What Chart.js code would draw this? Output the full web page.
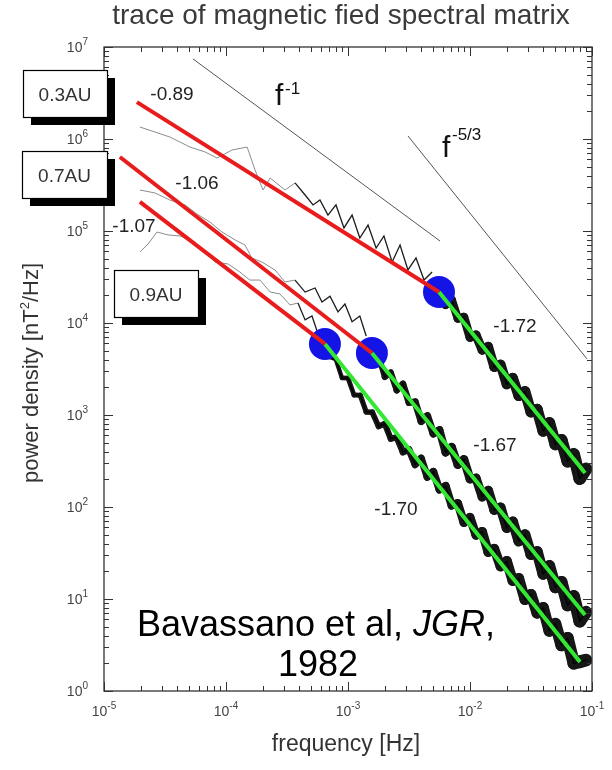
<!DOCTYPE html>
<html><head><meta charset="utf-8">
<script src="https://cdn.jsdelivr.net/npm/chart.js@4.4.0/dist/chart.umd.min.js"></script>
<style>html,body{margin:0;padding:0;background:#fff}</style>
</head><body>
<canvas id="c" width="612" height="770"></canvas>
<script>
// ---------------- data ----------------
const xTickExp = [-5, -4, -3, -2, -1];
const yTickExp = [0, 1, 2, 3, 4, 5, 6, 7];

// low-frequency part of each spectrum (Hz, nT^2/Hz)
const lowFreq03 = [1.97e-5, 2.62e-5, 3.47e-5, 5.07e-5, 6.73e-5, 8.44e-5, 1.12e-4, 1.49e-4, 1.73e-4, 2.01e-4, 2.30e-4, 3.05e-4, 3.68e-4, 4.45e-4, 5.17e-4, 5.89e-4, 6.85e-4, 7.97e-4, 9.27e-4, 1.08e-3, 1.25e-3, 1.46e-3, 1.70e-3, 1.97e-3, 2.30e-3, 2.67e-3, 3.10e-3, 3.61e-3, 4.20e-3, 4.89e-3];
const lowPow03  = [1.35e6, 1.19e6, 1.05e6, 8.18e5, 7.23e5, 6.21e5, 7.59e5, 8.18e5, 4.60e5, 2.79e5, 3.77e5, 2.79e5, 3.33e5, 2.46e5, 1.92e5, 2.17e5, 1.49e5, 1.92e5, 1.08e5, 1.49e5, 8.39e4, 1.16e5, 6.53e4, 8.83e4, 4.60e4, 7.05e4, 3.77e4, 5.09e4, 2.93e4, 3.58e4];
const lowFreq07 = [1.97e-5, 2.62e-5, 3.47e-5, 4.61e-5, 5.78e-5, 7.39e-5, 9.27e-5, 1.19e-4, 1.43e-4, 1.63e-4, 1.97e-4, 2.52e-4, 3.05e-4, 3.68e-4, 4.45e-4, 5.37e-4, 6.12e-4, 7.12e-4, 8.28e-4, 9.44e-4, 1.08e-3, 1.25e-3, 1.41e-3];
const lowPow07  = [2.79e5, 2.59e5, 2.17e5, 1.92e5, 1.53e5, 1.25e5, 9.75e4, 7.98e4, 7.05e4, 5.09e4, 4.60e4, 3.77e4, 2.79e4, 2.93e4, 2.17e4, 2.40e4, 1.69e4, 1.96e4, 1.32e4, 1.61e4, 1.03e4, 1.19e4, 7.23e3];
const lowFreq09 = [1.97e-5, 2.30e-5, 2.72e-5, 3.35e-5, 4.20e-5, 5.26e-5, 6.73e-5, 8.13e-5, 1.04e-4, 1.30e-4, 1.57e-4, 1.90e-4, 2.30e-4, 2.77e-4, 3.35e-4, 3.89e-4, 4.45e-4, 5.07e-4, 5.68e-4];
const lowPow09  = [5.92e4, 7.23e4, 9.75e4, 9.06e4, 8.83e4, 7.78e4, 5.92e4, 4.60e4, 4.38e4, 3.58e4, 2.93e4, 2.93e4, 2.17e4, 2.07e4, 1.57e4, 1.65e4, 1.08e4, 1.19e4, 7.59e3];

// high-frequency (noisy) part: shared frequency grid, series aligned to its end
const hfFreq = [6.31e-4, 7.08e-4, 7.94e-4, 8.91e-4, 1.00e-3, 1.12e-3, 1.26e-3, 1.41e-3, 1.58e-3, 1.78e-3, 2.00e-3, 2.24e-3, 2.51e-3, 2.82e-3, 3.16e-3, 3.55e-3, 3.98e-3, 4.47e-3, 5.01e-3, 5.62e-3, 6.31e-3, 7.08e-3, 7.94e-3, 8.91e-3, 1.00e-2, 1.12e-2, 1.26e-2, 1.41e-2, 1.58e-2, 1.78e-2, 2.00e-2, 2.24e-2, 2.51e-2, 2.82e-2, 3.16e-2, 3.55e-2, 3.98e-2, 4.47e-2, 5.01e-2, 5.62e-2, 6.31e-2, 7.08e-2, 7.94e-2, 8.91e-2];
const hfPow03 = [2.44e4, 1.57e4, 1.79e4, 1.12e4, 1.16e4, 6.97e3, 7.41e3, 5.09e3, 5.55e3, 3.32e3, 3.53e3, 2.16e3, 2.52e3, 1.62e3, 1.80e3, 1.08e3, 1.15e3, 671, 820, 480, 535, 313, 373, 204, 259];
const hfPow07 = [4140, 4416, 2588, 2891, 1858, 2173, 1365, 1390, 853, 975, 627, 684, 392, 448, 288, 329, 202, 206, 129, 151, 92.7, 98.9, 59.3, 69.3, 42.6, 50.0, 30.5, 32.6, 18.7, 22.9, 13.4, 15.3, 8.57, 10.7, 5.74, 7.19];
const hfPow09 = [6780, 4256, 4036, 2529, 2518, 1652, 1641, 1079, 1072, 753, 804, 552, 574, 395, 421, 289, 338, 212, 242, 155, 169, 104, 110, 67.6, 77.1, 49.5, 54.0, 32.3, 35.2, 22.6, 25.8, 15.8, 16.8, 9.84, 11.2, 7.05, 8.04, 4.50, 5.37, 3.14, 3.76, 2.00, 2.08, 2.17];

// power-law fits: [start, break (blue dot), end]
const fitFreq03 = [1.86e-5, 5.57e-3, 8.77e-2]; const fitPow03 = [2.52e6, 2.17e4, 234];
const fitFreq07 = [1.35e-5, 1.57e-3, 8.77e-2]; const fitPow07 = [6.37e5, 4.72e3, 6.70];
const fitFreq09 = [1.97e-5, 6.47e-4, 7.98e-2]; const fitPow09 = [2.07e5, 5.92e3, 2.07];

// reference slopes f^-1 and f^-5/3
const refFreqM1 = [5.37e-5, 5.68e-3];  const refPowM1 = [7.41e6, 7.78e4];
const refFreqM53 = [3.10e-3, 9.10e-2]; const refPowM53 = [1.08e6, 4.07e3];

const slopeLabels = ['-0.89', '-1.06', '-1.07', '-1.72', '-1.67', '-1.70'];
const distanceLabels = ['0.3AU', '0.7AU', '0.9AU'];
const titleText = 'trace of magnetic fied spectral matrix';

// ---------------- helpers ----------------
const FONT = '"Liberation Sans", Arial, Helvetica, sans-serif';
const pts = (f, p) => f.map((v, i) => ({x: v, y: p[i]}));
const hfPts = p => { const o = hfFreq.length - p.length; return p.map((v, i) => ({x: hfFreq[o + i], y: v})); };

const lowSet = (f, p) => ({
  data: pts(f, p), showLine: true, pointRadius: 0, borderWidth: 1, borderColor: '#8c8c8c', order: 6,
  segment: {
    borderColor: c => c.p0.parsed.x >= 3.5e-4 ? '#1c1c1c' : '#8c8c8c',
    borderWidth: c => c.p0.parsed.x >= 3.5e-4 ? 1.3 : 1
  }
});
// band width grows toward high frequencies (noise spread widens in the original)
const bandWidth = c => 4 + 9 * Math.max(0, Math.log10(c.p0.parsed.x) + 3.2) / 2.15;
const hfSet = (p, w, col, order, grow) => ({
  data: hfPts(p), showLine: true, pointRadius: 0, borderWidth: w, borderColor: col, order,
  borderJoinStyle: 'round', borderCapStyle: 'round',
  segment: grow ? {borderWidth: bandWidth} : {}
});
const lineSet = (data, color, w, order) => ({data, showLine: true, pointRadius: 0, borderWidth: w, borderColor: color, order, borderCapStyle: 'butt'});
const redPart = (f, p) => pts(f.slice(0, 2), p.slice(0, 2));
const greenPart = (f, p) => pts(f.slice(1, 3), p.slice(1, 3));

function supText(ctx, parts, x, y, align) {
  let w = 0;
  for (const [t, s, r, st] of parts) { ctx.font = (st || '') + ' ' + s + 'px ' + FONT; w += ctx.measureText(t).width; }
  let cx = align === 'center' ? x - w / 2 : align === 'right' ? x - w : x;
  ctx.textAlign = 'left';
  for (const [t, s, r, st] of parts) {
    ctx.font = (st || '') + ' ' + s + 'px ' + FONT;
    ctx.fillText(t, cx, y - (r || 0));
    cx += ctx.measureText(t).width;
  }
}

const decor = {
  id: 'decor',
  afterDraw(chart) {
    const {ctx, chartArea: a, scales: {x, y}} = chart;
    ctx.save();
    ctx.strokeStyle = '#333'; ctx.lineWidth = 1.3;
    ctx.strokeRect(a.left, a.top, a.right - a.left, a.bottom - a.top);
    ctx.lineWidth = 1;
    const seg = (x1, y1, x2, y2) => { ctx.beginPath(); ctx.moveTo(x1, y1); ctx.lineTo(x2, y2); ctx.stroke(); };
    xTickExp.forEach((e, i) => {
      for (let m = 1; m <= 9; m++) {
        if (i === xTickExp.length - 1 && m > 1) break;
        const px = Math.round(x.getPixelForValue(m * Math.pow(10, e))) + 0.5;
        const L = m === 1 ? 9 : 5;
        seg(px, a.bottom, px, a.bottom - L); seg(px, a.top, px, a.top + L);
      }
    });
    yTickExp.forEach((e, i) => {
      for (let m = 1; m <= 9; m++) {
        if (i === yTickExp.length - 1 && m > 1) break;
        const py = Math.round(y.getPixelForValue(m * Math.pow(10, e))) + 0.5;
        const L = m === 1 ? 9 : 5;
        seg(a.left, py, a.left + L, py); seg(a.right, py, a.right - L, py);
      }
    });
    ctx.fillStyle = '#444'; ctx.textBaseline = 'alphabetic';
    xTickExp.forEach(e => {
      const px = x.getPixelForValue(Math.pow(10, e));
      supText(ctx, [['10', 14, 0], [String(e), 10, 7]], px, a.bottom + 25, 'center');
    });
    yTickExp.forEach(e => {
      const py = y.getPixelForValue(Math.pow(10, e));
      supText(ctx, [['10', 14, 0], [String(e), 10, 7]], a.left - 16, py + 5, 'right');
    });
    ctx.fillStyle = '#333';
    supText(ctx, [['frequency [Hz]', 23, 0]], 346, 751, 'center');
    ctx.save();
    ctx.translate(38, 373); ctx.rotate(-Math.PI / 2);
    supText(ctx, [['power density [nT', 22, 0], ['2', 13, 9], ['/Hz]', 22, 0]], 0, 0, 'center');
    ctx.restore();
    ctx.fillStyle = '#3a3a3a';
    supText(ctx, [[titleText, 28, 0]], 341, 24, 'center');
    ctx.fillStyle = '#222';
    const slopePos = [[172, 100], [197, 189], [134, 232], [515, 332], [495, 451], [396, 515]];
    slopeLabels.forEach((t, i) => supText(ctx, [[t, 19, 0]], slopePos[i][0], slopePos[i][1], 'center'));
    ctx.fillStyle = '#111';
    supText(ctx, [['f', 30, 0], [' ', 6, 0], ['-1', 17, 11]], 275, 105, 'left');
    supText(ctx, [['f', 30, 0], [' ', 6, 0], ['-5/3', 17, 17]], 442, 157, 'left');
    const boxes = [[23, 70, 84, 47], [22, 151, 85, 47], [114, 270, 84, 47]];
    boxes.forEach((b, i) => {
      ctx.fillStyle = '#000'; ctx.fillRect(b[0] + 8, b[1] + 8, b[2], b[3]);
      ctx.fillStyle = '#fff'; ctx.fillRect(b[0], b[1], b[2], b[3]);
      ctx.strokeStyle = '#000'; ctx.lineWidth = 1.2; ctx.strokeRect(b[0] + 0.5, b[1] + 0.5, b[2], b[3]);
      ctx.fillStyle = '#333';
      supText(ctx, [[distanceLabels[i], 19, 0]], b[0] + b[2] / 2, b[1] + b[3] / 2 + 7, 'center');
    });
    ctx.fillStyle = '#000';
    supText(ctx, [['Bavassano et al, ', 36, 0], ['JGR', 36, 0, 'italic'], [',', 36, 0]], 316, 636, 'center');
    supText(ctx, [['1982', 36, 0]], 318, 676, 'center');
    ctx.restore();
  }
};

new Chart(document.getElementById('c'), {
  type: 'scatter',
  data: {
    datasets: [
      lineSet(redPart(fitFreq03, fitPow03), '#e81c1c', 4, 1),
      lineSet(redPart(fitFreq07, fitPow07), '#e81c1c', 4, 1),
      lineSet(redPart(fitFreq09, fitPow09), '#e81c1c', 4, 1),
      lineSet(greenPart(fitFreq03, fitPow03), '#33e833', 4, 1),
      lineSet(greenPart(fitFreq07, fitPow07), '#33e833', 4, 1),
      lineSet(greenPart(fitFreq09, fitPow09), '#33e833', 4, 1),
      {data: [fitFreq03, fitFreq07, fitFreq09].map((f, i) => ({x: f[1], y: [fitPow03, fitPow07, fitPow09][i][1]})),
       showLine: false, pointRadius: 16, pointHoverRadius: 16, pointBorderWidth: 0,
       backgroundColor: '#1414e6', borderColor: '#1414e6', order: 2},
      lineSet(pts(refFreqM1, refPowM1), '#555', 1, 3),
      lineSet(pts(refFreqM53, refPowM53), '#555', 1, 3),
      hfSet(hfPow03, 1.3, '#000', 4, false), hfSet(hfPow07, 1.3, '#000', 4, false), hfSet(hfPow09, 1.3, '#000', 4, false),
      hfSet(hfPow03, 6, '#161616', 5, true), hfSet(hfPow07, 6, '#161616', 5, true), hfSet(hfPow09, 6, '#161616', 5, true),
      lowSet(lowFreq03, lowPow03), lowSet(lowFreq07, lowPow07), lowSet(lowFreq09, lowPow09)
    ]
  },
  options: {
    responsive: false, animation: false, devicePixelRatio: 1, events: [],
    layout: {padding: {left: 104, right: 20, top: 47, bottom: 79}},
    plugins: {legend: {display: false}, tooltip: {enabled: false}},
    scales: {
      x: {type: 'logarithmic', min: 1e-5, max: 1e-1, display: false},
      y: {type: 'logarithmic', min: 1, max: 1e7, display: false}
    }
  },
  plugins: [decor]
});
</script>
</body></html>
